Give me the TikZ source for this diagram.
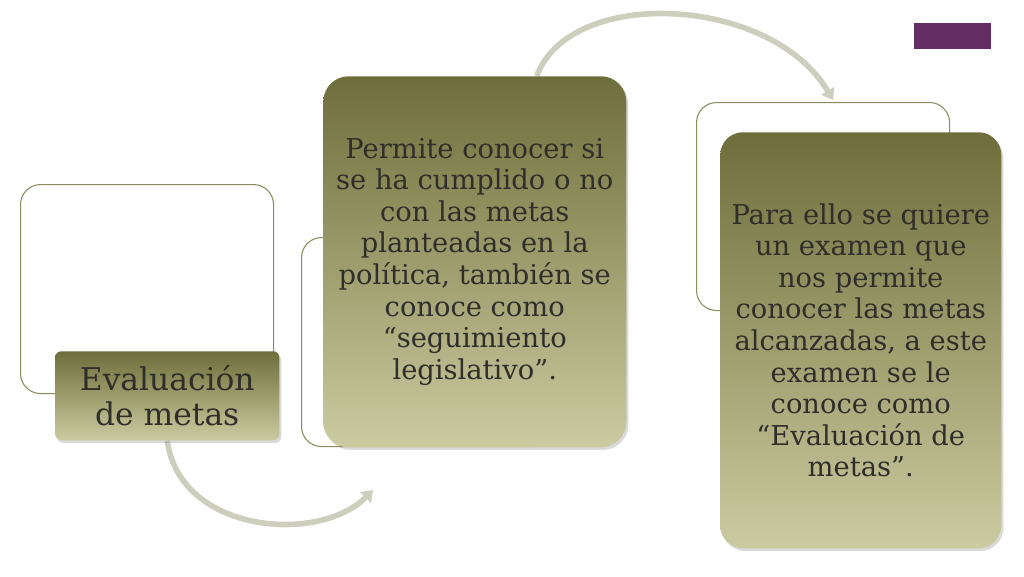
\documentclass[tikz,border=0pt]{standalone}
\usepackage{fontspec}
\setmainfont{DejaVu Serif}
\usetikzlibrary{positioning, arrows.meta, shadows, calc, backgrounds}

\definecolor{olivedark}{HTML}{6E6D3B}
\definecolor{olivemid}{HTML}{9D9C6C}
\definecolor{olivelight}{HTML}{CBCBA2}
\definecolor{oliveline}{HTML}{8C8B5C}
\definecolor{arrowgray}{HTML}{CDCFBC}
\definecolor{textgray}{HTML}{2E2E2B}
\definecolor{tagpurple}{HTML}{642D64}

\begin{document}
\begin{tikzpicture}[x=0.75pt, y=-0.75pt]
        \tikzset{
            outline box/.style={draw=oliveline, line width=0.8pt, fill=white, rounded corners=15pt, anchor=north west, minimum width=189.75pt, minimum height=156.75pt, inner sep=0pt}, % empty frames behind
            content box/.style={rounded corners=19pt, anchor=north west, inner sep=0pt, top color=olivedark, bottom color=olivelight, middle color=olivemid, text=textgray, align=center, drop shadow={opacity=0.3, shadow xshift=1.5pt, shadow yshift=-2pt}, font=\fontsize{20.5}{23.7}\selectfont}, % big text boxes
            flow arrow/.style={-{Triangle[length=8pt, width=11pt]}, line width=4.2pt, draw=arrowgray}, % curved arrows
            }
        \useasboundingbox (0,0) rectangle (1024,576);

        % nodes
        \node[fill=tagpurple, minimum width=57.75pt, minimum height=19.5pt, anchor=north west, inner sep=0pt] (title_tag) at (914,23) {};
        \node[outline box] (first_frame) at (20,184) {};
        \node[content box, rounded corners=4.5pt, minimum width=168pt, minimum height=66.75pt, font=\fontsize{23.5}{26.3}\selectfont] (eval_label) at (55,351) {Evaluación\\de metas};
        \node[outline box] (second_frame) at (301,237) {};
        \node[content box, minimum width=227.25pt, minimum height=278.25pt] (second_box) at (323,76) {Permite conocer si\\se ha cumplido o no\\con las metas\\planteadas en la\\política, también se\\conoce como\\“seguimiento\\legislativo”.};
        \node[outline box, minimum height=156pt] (third_frame) at (696,102) {};
        \node[content box, rounded corners=17pt, minimum width=210.75pt, minimum height=312pt] (third_box) at (720,132) {Para ello se quiere\\un examen que\\nos permite\\conocer las metas\\alcanzadas, a este\\examen se le\\conoce como\\“Evaluación de\\metas”.};

        \coordinate (first_arrow_end) at (373,490);

        % arrows
        \begin{scope}[on background layer]
        \draw[flow arrow] (eval_label.south) .. controls ++(12,92) and ++(-55,55) .. (first_arrow_end);
        \draw[flow arrow] ($(second_box.north)+(62,0)$) .. controls ++(33,-90) and ++(-62,-105) .. ($(third_frame.north)+(10,-2)$);
        \end{scope}
    \end{tikzpicture}
\end{document}
